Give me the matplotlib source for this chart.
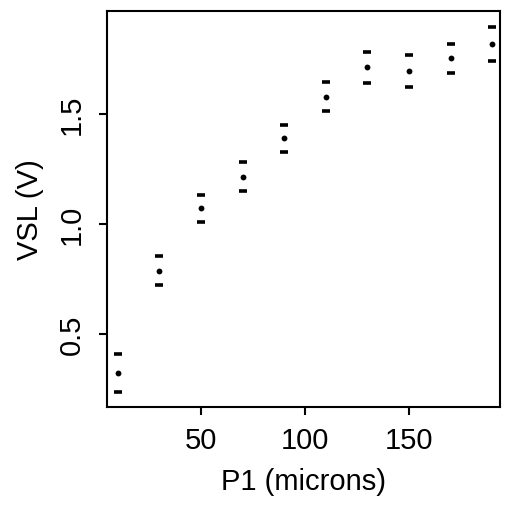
import matplotlib
matplotlib.use("Agg")
import matplotlib.pyplot as plt

plt.rcParams['font.family'] = ['Liberation Sans', 'DejaVu Sans']

p1 = [10, 30, 50, 70, 90, 110, 130, 150, 170, 190]
vsl_upper = [0.409, 0.855, 1.132, 1.282, 1.450, 1.645, 1.782, 1.768, 1.818, 1.895]
vsl_mid = [0.323, 0.786, 1.073, 1.214, 1.391, 1.577, 1.714, 1.695, 1.755, 1.818]
vsl_lower = [0.236, 0.723, 1.009, 1.150, 1.327, 1.514, 1.641, 1.623, 1.686, 1.741]

fig = plt.figure(figsize=(5.06, 5.10), dpi=100)
ax = fig.add_axes([107/506, 102/510, 393/506, 396/510])

ax.plot(p1, vsl_upper, ls='none', marker='_', ms=6, mew=2.6, color='black')
ax.plot(p1, vsl_lower, ls='none', marker='_', ms=6, mew=2.6, color='black')
ax.plot(p1, vsl_mid, ls='none', marker='o', ms=4.2, mew=0, color='black')

ax.set_xlim(4.8, 193.8)
ax.set_ylim(0.168, 1.968)
ax.set_xticks([50, 100, 150])
ax.set_yticks([0.5, 1.0, 1.5])
ax.set_yticklabels(['0.5', '1.0', '1.5'], rotation=90, va='center')
ax.tick_params(axis='both', length=6, width=1.5, labelsize=21, direction='out')
ax.tick_params(axis='x', pad=8)
ax.tick_params(axis='y', pad=9)
for s in ax.spines.values():
    s.set_linewidth(1.5)

ax.set_xlabel('P1 (microns)', fontsize=21, labelpad=9)
ax.set_ylabel('VSL (V)', fontsize=21, labelpad=10)

fig.savefig('out.png', dpi=100)
